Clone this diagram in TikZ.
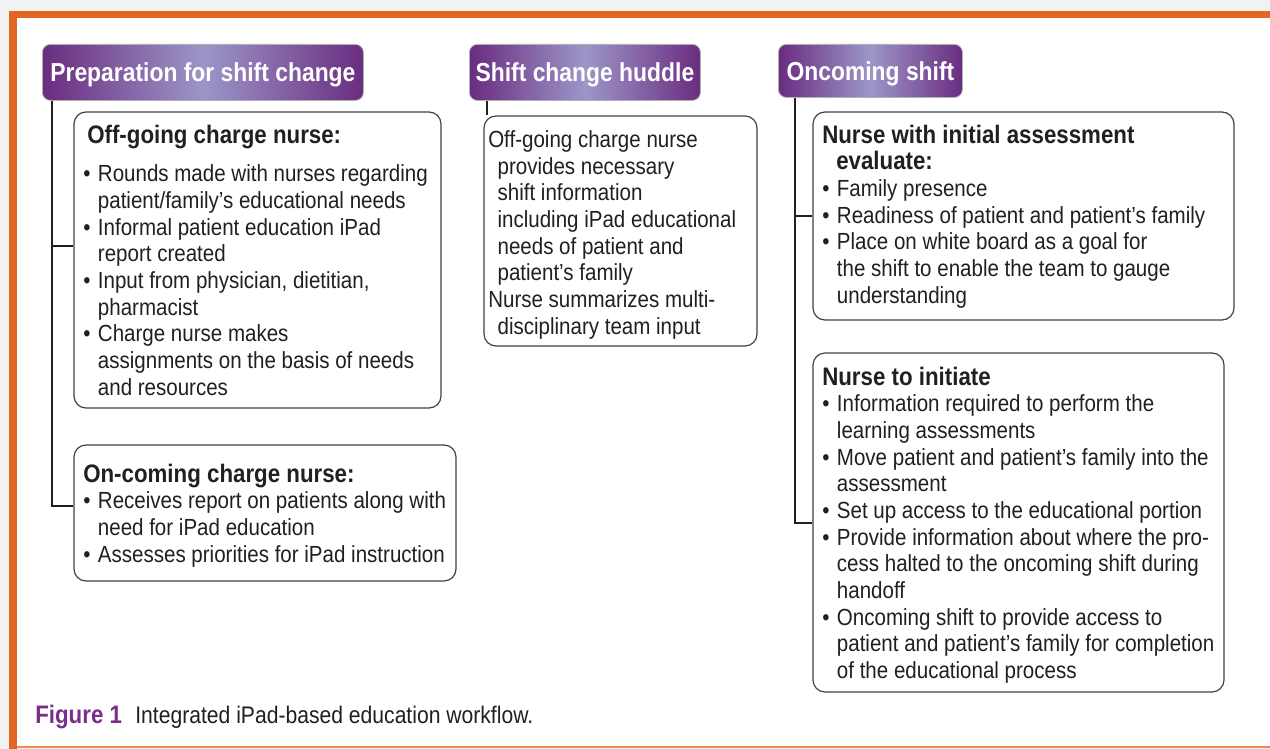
\documentclass[tikz,border=0pt]{standalone}
\usepackage{fontspec}
\setmainfont{Liberation Sans}[FakeStretch=0.88]
\usetikzlibrary{positioning, fit}

\definecolor{hdrdark}{HTML}{6A2C80}
\definecolor{hdrlight}{HTML}{9C96C8}
\definecolor{capurple}{HTML}{7B2D8B}
\definecolor{frameorange}{HTML}{E2661F}
\definecolor{inkgray}{HTML}{231F20}

\newcommand{\itm}{\makebox[11pt][l]{\textbullet}}
\newcommand{\hang}{\hspace*{11pt}}
\newcommand{\cardhead}[1]{{\fontsize{19}{20}\selectfont\bfseries #1}}

\begin{document}
\begin{tikzpicture}[x=0.75pt, y=-0.75pt,
	header/.style={draw=gray!60, line width=0.6pt, rounded corners=6pt, left color=hdrdark, right color=hdrdark, middle color=hdrlight, text=white, font=\fontsize{19.5}{20}\selectfont\bfseries, inner sep=0pt, text height=14pt, text depth=0pt, anchor=north west},
	card/.style={draw=inkgray!85, line width=0.9pt, rounded corners=9pt, inner sep=0pt},
	cardtext/.style={anchor=north west, align=left, inner sep=0pt, font=\fontsize{17.5}{20}\selectfont, text=inkgray},
	link/.style={draw=inkgray, line width=1.5pt}]
	\useasboundingbox (0,0) rectangle (1270,749);
	
	% page frame
	\fill[black!5] (0,0) rectangle (1270,749);
	\fill[white] (17,18) rectangle (1270,746);
	\fill[frameorange] (9,11) rectangle (1270,18);
	\fill[frameorange] (9,11) rectangle (17,749);
	\draw[frameorange!75, line width=1.2pt] (17,747) -- (1270,747);
	
	% column headers
	\node[header, minimum width=240.75pt, minimum height=42pt] (prep) at (42,44) {Preparation for shift change};
	\node[header, minimum width=173.25pt, minimum height=42pt] (huddle) at (469,44) {Shift change huddle};
	\node[header, minimum width=138pt, minimum height=39.75pt] (oncome) at (778,44) {Oncoming shift};
	
	% cards
	\node[card, fit={(74,112) (441,408)}] (offcard) {};
	\node[card, fit={(74,445) (456,581)}] (oncard) {};
	\node[card, fit={(484,116) (757,346)}] (huddlecard) {};
	\node[card, fit={(813,112) (1234,320)}] (assesscard) {};
	\node[card, fit={(813,353) (1224,692)}] (initcard) {};
	
	\node[cardtext] (offtext) at (83,124.7) {\hspace*{3pt}\cardhead{Off-going charge nurse:}\\[9pt]
		\itm Rounds made with nurses regarding\\
		\hang patient/family’s educational needs\\
		\itm Informal patient education iPad\\
		\hang report created\\
		\itm Input from physician, dietitian,\\
		\hang pharmacist\\
		\itm Charge nurse makes\\
		\hang assignments on the basis of needs\\
		\hang and resources};
	\node[cardtext] (ontext) at (83,463.7) {\cardhead{On-coming charge nurse:}\\
		\itm Receives report on patients along with\\
		\hang need for iPad education\\
		\itm Assesses priorities for iPad instruction};
	\node[cardtext] (huddletext) at (488,130.2) {Off-going charge nurse\\
		\hspace*{7pt}provides necessary\\
		\hspace*{7pt}shift information\\
		\hspace*{7pt}including iPad educational\\
		\hspace*{7pt}needs of patient and\\
		\hspace*{7pt}patient’s family\\
		Nurse summarizes multi-\\
		\hspace*{7pt}disciplinary team input};
	\node[cardtext] (assesstext) at (822,124.7) {\cardhead{Nurse with initial assessment}\\
		\hspace*{10.5pt}\cardhead{evaluate:}\\
		\itm Family presence\\
		\itm Readiness of patient and patient’s family\\
		\itm Place on white board as a goal for\\
		\hang the shift to enable the team to gauge\\
		\hang understanding};
	\node[cardtext] (inittext) at (822,366.7) {\cardhead{Nurse to initiate}\\
		\itm Information required to perform the\\
		\hang learning assessments\\
		\itm Move patient and patient’s family into the\\
		\hang assessment\\
		\itm Set up access to the educational portion\\
		\itm Provide information about where the pro-\\
		\hang cess halted to the oncoming shift during\\
		\hang handoff\\
		\itm Oncoming shift to provide access to\\
		\hang patient and patient’s family for completion\\
		\hang of the educational process};
	
	% connectors
	\coordinate (prepstem) at ([xshift=7.5pt]prep.south west);
	\coordinate (huddlestem) at ([xshift=13.5pt]huddle.south west);
	\coordinate (oncomestem) at ([xshift=12.75pt]oncome.south west);
	\draw[link] (prepstem) |- ([yshift=10.5pt]offcard.west);
	\draw[link] (prepstem) |- ([yshift=5.25pt]oncard.west);
	\draw[link] (huddlestem) -- (huddlestem |- huddlecard.north);
	\draw[link] (oncomestem) |- (assesscard.west);
	\draw[link] (oncomestem) |- (initcard.west);
	
	% caption
	\node[anchor=base west, inner sep=0pt, font=\fontsize{18}{20}\selectfont, text=inkgray] (caption) at (35,723) {{\color{capurple}\fontsize{19}{20}\selectfont\bfseries Figure 1}\hspace{10pt}Integrated iPad-based education workflow.};
\end{tikzpicture}
\end{document}
